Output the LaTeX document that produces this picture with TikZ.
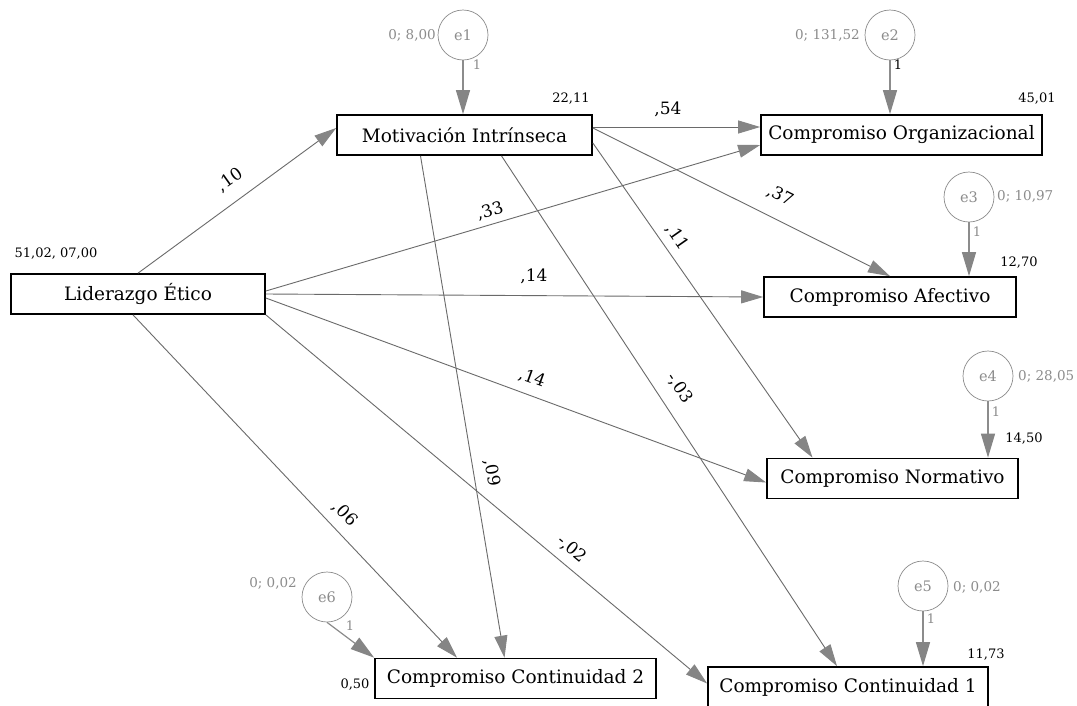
\documentclass[tikz,border=0pt]{standalone}
\usepackage{fontspec}
\setmainfont{DejaVu Serif}
\usetikzlibrary{arrows.meta}
\definecolor{lg}{HTML}{8C8C8C}
\definecolor{ln}{HTML}{6A6A6A}
\definecolor{tipc}{HTML}{858585}
\begin{document}
\begin{tikzpicture}[x=1pt,y=-1pt,
  box/.style={draw=black,line width=1.7pt,minimum height=40pt,inner sep=0pt,font=\fontsize{18.5}{22}\selectfont},
  err/.style={circle,draw=lg,line width=0.7pt,minimum size=50pt,inner sep=0pt,text=lg,font=\fontsize{14.5}{16}\selectfont},
  reg/.style={draw=ln,line width=0.9pt,-{Triangle[length=22pt,width=13pt,fill=tipc,color=tipc]}},
  erra/.style={draw=lg,line width=1.2pt,-{Triangle[length=24pt,width=14pt,fill=tipc,color=tipc]}},
  lab/.style={inner sep=0pt,font=\fontsize{17}{20}\selectfont},
  icp/.style={inner sep=0pt,font=\fontsize{13}{16}\selectfont},
  glab/.style={inner sep=0pt,text=lg,font=\fontsize{13.5}{16}\selectfont},
  one/.style={inner sep=0pt,text=lg,font=\fontsize{13}{15}\selectfont}
]
\useasboundingbox[fill=white] (0,0) rectangle (1077,705);

% boxes
\node[box,minimum width=255pt] (mot) at (464.5,135) {Motivación Intrínseca};
\node[box,minimum width=281pt] (org) at (901.5,135) {Compromiso Organizacional};
\node[box,minimum width=254pt] (lid) at (138,294) {Liderazgo Ético};
\node[box,minimum width=252pt] (afe) at (890,297) {Compromiso Afectivo};
\node[box,minimum width=251pt] (nor) at (892.5,478.5) {Compromiso Normativo};
\node[box,minimum width=281pt] (co2) at (515.5,678.5) {Compromiso Continuidad 2};
\node[box,minimum width=280pt,minimum height=41pt] (co1) at (848,687.5) {Compromiso Continuidad 1};

% error circles
\node[err] (e1) at (463,35) {e1};
\node[err] (e2) at (890,35) {e2};
\node[err] (e3) at (969,197) {e3};
\node[err] (e4) at (988,376) {e4};
\node[err] (e5) at (923,586) {e5};
\node[err] (e6) at (327,597) {e6};

% error arrows
\draw[erra] (e1.south) -- (e1.south |- mot.north);
\draw[erra] (e2.south) -- (e2.south |- org.north);
\draw[erra] (e3.south) -- (e3.south |- afe.north);
\draw[erra] (e4.south) -- (e4.south |- nor.north);
\draw[erra] (e5.south) -- (e5.south |- co1.north);
\draw[erra] (e6.south) -- (co2.north west);

% regression paths
\draw[reg] (lid.north) -- ([yshift=7pt]mot.west);
\draw[reg] ([yshift=3pt]lid.east) -- ([yshift=-10pt]org.west);
\draw[reg] (lid.east) -- (afe.west);
\draw[reg] ([yshift=-4pt]lid.east) -- ([yshift=-4pt]nor.west);
\draw[reg] ([xshift=-5pt]lid.south) -- ([xshift=-58.5pt]co2.north);
\draw[reg] (lid.south east) -- ([yshift=4pt]co1.west);
\draw[reg] ([yshift=8pt]mot.east) -- ([yshift=8pt]org.west);
\draw[reg] ([yshift=7pt]mot.east) -- (afe.north);
\draw[reg] ([yshift=-8pt]mot.east) -- ([xshift=-80pt]nor.north);
\draw[reg] ([xshift=37pt]mot.south) -- ([xshift=-11pt]co1.north);
\draw[reg] ([xshift=-44pt]mot.south) -- ([xshift=-11pt]co2.north);

% path labels
\node[lab,rotate=35.5] (l1) at (230,180) {,10};
\node[lab,rotate=16.4] (l2) at (490,211) {,33};
\node[lab] (l3) at (534,276) {,14};
\node[lab,rotate=-20] (l4) at (532,378) {,14};
\node[lab,rotate=-46.7] (l5) at (345,514) {,06};
\node[lab,rotate=-39.8] (l6) at (572,549) {-,02};
\node[lab] (l7) at (668,109) {,54};
\node[lab,rotate=-26.6] (l8) at (780,196) {,37};
\node[lab,rotate=-55] (l9) at (677,237) {,11};
\node[lab,rotate=-56.8] (l10) at (680,388) {-,03};
\node[lab,rotate=-80.5] (l11) at (492,473) {,09};

% intercepts
\node[icp] (i1) at (571,99) {22,11};
\node[icp] (i2) at (1037,99) {45,01};
\node[icp] (i3) at (56,254) {51,02, 07,00};
\node[icp] (i4) at (1019,263) {12,70};
\node[icp] (i5) at (1024,439) {14,50};
\node[icp] (i6) at (355,685) {0,50};
\node[icp] (i7) at (986,655) {11,73};

% variances
\node[glab,anchor=east] (v1) at (436,35) {0; 8,00};
\node[glab,anchor=east] (v2) at (860,35) {0; 131,52};
\node[glab,anchor=west] (v3) at (997,196) {0; 10,97};
\node[glab,anchor=west] (v4) at (1018,376) {0; 28,05};
\node[glab,anchor=west] (v5) at (953,587) {0; 0,02};
\node[glab,anchor=east] (v6) at (297,583) {0; 0,02};

% weights 1
\node[one] (o1) at (477,65) {1};
\node[one,text=black] (o2) at (898,65) {1};
\node[one] (o3) at (977,232) {1};
\node[one] (o4) at (996,412) {1};
\node[one] (o5) at (931,619) {1};
\node[one] (o6) at (350,626) {1};
\end{tikzpicture}
\end{document}
